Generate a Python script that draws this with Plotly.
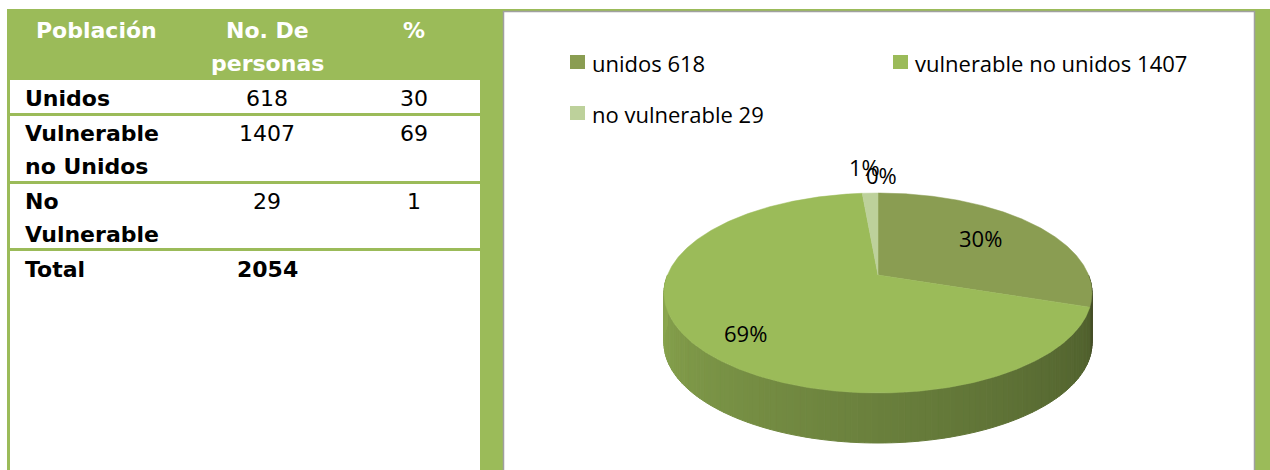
import numpy as np
import plotly.graph_objects as go

# ---------------- data ----------------
header_labels = ["Población", "No. De<br>personas", "%"]
row_labels = ["Unidos", "Vulnerable<br>no Unidos", "No<br>Vulnerable", "Total"]
row_counts = ["618", "1407", "29", "2054"]
row_pcts = ["30", "69", "1", ""]

pie_labels = ["unidos", "vulnerable no unidos", "no vulnerable"]
pie_values = [618, 1407, 29]
pie_extra_label = "0%"

# ---------------- styles ----------------
GREEN = "#9BBB59"
pie_colors = ["#8A9D52", "#9BBB59", "#BDD19B"]
TFONT = "DejaVu Sans"
CFONT = "Open Sans"

W, H = 1270, 470
fig = go.Figure()

shapes = []
annotations = []

def rect(x0, y0, x1, y1, fill, line_color=None, lw=0, layer="below"):
    shapes.append(dict(type="rect", xref="x", yref="y", x0=x0, y0=y0, x1=x1, y1=y1,
                       fillcolor=fill, line=dict(color=line_color or fill, width=lw), layer=layer))

def text(x, y, s, size, color="#000000", bold=False, xanchor="center", family=TFONT):
    lines = s.split("<br>")
    for i, ln in enumerate(lines):
        annotations.append(dict(x=x, y=y + i * 33, xref="x", yref="y", text=("<b>%s</b>" % ln) if bold else ln,
                                showarrow=False, xanchor=xanchor, yanchor="middle",
                                font=dict(family=family, size=size, color=color)))

# background green frame
rect(7, 9, W + 2, H + 2, GREEN)
# table cells
row_bounds = [(80, 113), (116, 181), (184, 248), (251, H + 2)]
for (y0, y1) in row_bounds:
    rect(10, y0, 480, y1, "#FFFFFF")
# chart panel
rect(503.5, 11.5, 1254.5, H + 5, "#FFFFFF", "#A0A0A0", 1.5)

# header text
col_x = [96, 267, 414]
for cx, lab in zip(col_x, header_labels):
    text(cx, 30, lab, 22, "#FFFFFF", bold=True)
# rows
row_y = [98, 133, 201, 269]
for i, (lab, cnt, pct) in enumerate(zip(row_labels, row_counts, row_pcts)):
    last = i == len(row_labels) - 1
    text(23, row_y[i], lab, 22, "#000000", bold=True, xanchor="left")
    text(col_x[1], row_y[i], cnt, 22, "#000000", bold=last)
    if pct:
        text(col_x[2], row_y[i], pct, 22, "#000000")

# ---------------- 3D-looking pie (perspective ellipse) ----------------
cx, vy, depth = 878, 275, 50
r = 0.18           # perspective factor
q = -47.26         # vertical radius term
a = 210.5          # horizontal radius term
total = sum(pie_values)
fr = np.array(pie_values) / total
bounds = np.concatenate([[0], np.cumsum(fr)]) * 360.0

def ex(t):
    t = np.radians(t)
    return cx + a * np.sin(t) / (1 + r * np.cos(t))

def ey(t):
    t = np.radians(t)
    return (vy + q * np.cos(t)) / (1 + r * np.cos(t))

def hex2rgb(h):
    h = h.lstrip("#")
    return [int(h[i:i + 2], 16) for i in (0, 2, 4)]

def shade(hexc, f):
    rr, g, bb = hex2rgb(hexc)
    return "rgb(%d,%d,%d)" % (rr * f, g * f, bb * f)

# side band (front half)
N = 120
ts = np.linspace(90, 270, N + 1)
for i in range(N):
    t0, t1 = ts[i], ts[i + 1]
    tm = (t0 + t1) / 2
    k = int(np.searchsorted(bounds, tm) - 1)
    k = max(0, min(k, len(pie_values) - 1))
    f = 0.47 + 0.43 * (tm - 90) / 180.0
    col = shade(pie_colors[k], f)
    xs = [ex(t0), ex(t1), ex(t1), ex(t0), ex(t0)]
    ys = [ey(t0), ey(t1), ey(t1) + depth, ey(t0) + depth, ey(t0)]
    fig.add_trace(go.Scatter(x=xs, y=ys, mode="lines", fill="toself", fillcolor=col,
                             line=dict(color=col, width=1), hoverinfo="skip", showlegend=False))

# top slices
for k in range(len(pie_values)):
    t = np.linspace(bounds[k], bounds[k + 1], max(3, int((bounds[k + 1] - bounds[k]) * 2)))
    xs = np.concatenate([[cx], ex(t), [cx]])
    ys = np.concatenate([[vy], ey(t), [vy]])
    fig.add_trace(go.Scatter(x=xs, y=ys, mode="lines", fill="toself", fillcolor=pie_colors[k],
                             line=dict(color=pie_colors[k], width=0.5), hoverinfo="skip",
                             showlegend=False, name=pie_labels[k]))

# percentage labels
pct_text = ["%d%%" % round(v * 100) for v in fr]
label_pos = [(980, 238), (745, 333), (864, 167)]
for (lx, ly), s in zip(label_pos, pct_text):
    annotations.append(dict(x=lx, y=ly, xref="x", yref="y", text=s, showarrow=False,
                            font=dict(family=CFONT, size=22, color="#000000")))
annotations.append(dict(x=881, y=175, xref="x", yref="y", text=pie_extra_label, showarrow=False,
                        font=dict(family=CFONT, size=22, color="#000000")))

# legend
leg_pos = [(570, 62), (893, 62), (570, 113)]
for (lx, ly), lab, val, col in zip(leg_pos, pie_labels, pie_values, pie_colors):
    rect(lx, ly - 7, lx + 15, ly + 7, col)
    annotations.append(dict(x=lx + 20, y=ly + 1, xref="x", yref="y", text="%s %d" % (lab, val),
                            showarrow=False, xanchor="left", yanchor="middle",
                            font=dict(family=CFONT, size=22, color="#000000")))

fig.update_layout(
    width=W, height=H, margin=dict(l=0, r=0, t=0, b=0),
    paper_bgcolor="#FFFFFF", plot_bgcolor="#FFFFFF",
    xaxis=dict(range=[0, W], visible=False, fixedrange=True),
    yaxis=dict(range=[H, 0], visible=False, fixedrange=True),
    shapes=shapes, annotations=annotations, showlegend=False,
)
fig.write_html("out.html", config={"displayModeBar": False},
               post_script="document.body.style.margin='0px';document.body.style.overflow='hidden';")
